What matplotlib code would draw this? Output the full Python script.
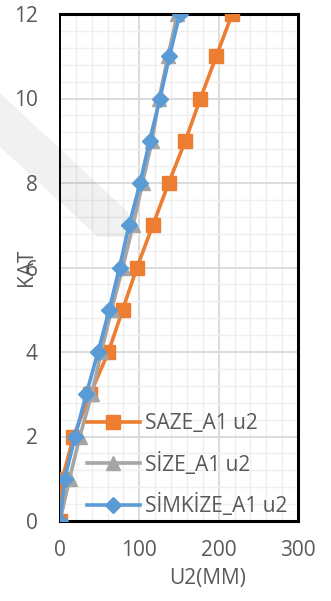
import matplotlib.pyplot as plt
from matplotlib.patches import Polygon
from matplotlib.ticker import MultipleLocator

# storey levels and u2 displacements (mm)
kat = [0, 1, 2, 3, 4, 5, 6, 7, 8, 9, 10, 11, 12]
saze_u2 = [0, 3, 17, 38, 61, 79, 97, 117, 137, 158, 177, 197, 217]
size_u2 = [0, 12, 25, 40, 52, 65, 79, 92, 104, 116, 125, 136, 148]
simkize_u2 = [0, 6, 19, 33, 48, 62, 75, 87, 101, 113, 126, 138, 151]

orange = "#ED7D31"
grey = "#A5A5A5"
blue = "#5B9BD5"
text_col = "#595959"
fs = 15

plt.rcParams["font.family"] = ["Open Sans", "DejaVu Sans"]

fig = plt.figure(figsize=(3.31, 6.01), dpi=100)
ax = fig.add_axes([60 / 331, 1 - 521 / 601, 238 / 331, 507 / 601])

# faint diagonal band in the background
band = [(0, 93), (128, 212), (134, 237), (98, 237), (0, 147)]
band = [(x / 331, 1 - y / 601) for x, y in band]
ax.add_patch(Polygon(band, closed=True, transform=fig.transFigure,
                     facecolor="black", alpha=0.055, edgecolor="none",
                     clip_on=False, zorder=1))

ax.plot(saze_u2, kat, color=orange, lw=2.6, marker="s", ms=10.5,
        label="SAZE_A1 u2", zorder=3)
ax.plot(size_u2, kat, color=grey, lw=2.6, marker="^", ms=9.5,
        label="SİZE_A1 u2", zorder=4)
ax.plot(simkize_u2, kat, color=blue, lw=2.6, marker="D", ms=8.5,
        label="SİMKİZE_A1 u2", zorder=5)

ax.set_xlim(0, 300)
ax.set_ylim(0, 12)
ax.xaxis.set_major_locator(MultipleLocator(100))
ax.xaxis.set_minor_locator(MultipleLocator(20))
ax.yaxis.set_major_locator(MultipleLocator(2))
ax.yaxis.set_minor_locator(MultipleLocator(0.4))
ax.grid(which="major", color="#D9D9D9", lw=1.3, zorder=0)
ax.grid(which="minor", color="#EFEFEF", lw=1.0, zorder=0)
ax.set_axisbelow(True)

ax.tick_params(which="both", length=0, labelsize=fs, colors=text_col)
ax.tick_params(axis="y", pad=16)
ax.tick_params(axis="x", pad=14)

for side in ["top", "right", "bottom"]:
    ax.spines[side].set_linewidth(2.2)
    ax.spines[side].set_color("black")
ax.spines["left"].set_linewidth(1.4)
ax.spines["left"].set_color("black")

ax.set_xlabel("U2(MM)", fontsize=fs, color=text_col)
ax.xaxis.set_label_coords(0.62, -0.093)
ax.set_ylabel("KAT", fontsize=fs, color=text_col)
ax.yaxis.set_label_coords(-0.095, 0.5)

ax.legend(loc="center left", bbox_to_anchor=(0.113, 0.11), frameon=False,
          fontsize=fs, labelcolor=text_col, handlelength=2.55,
          handletextpad=0.25, labelspacing=0.88, borderpad=0, borderaxespad=0)

fig.savefig("out.png", dpi=100)
